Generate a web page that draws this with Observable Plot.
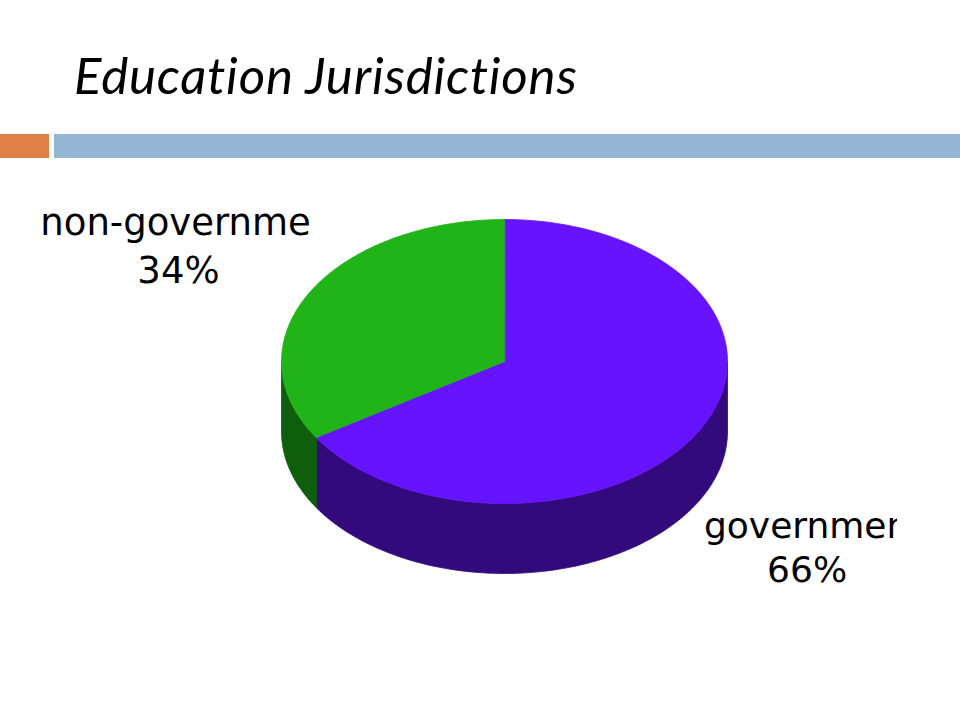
<!DOCTYPE html>
<html>
<head>
<meta charset="utf-8">
<script src="https://cdn.jsdelivr.net/npm/d3@7"></script>
<script src="https://cdn.jsdelivr.net/npm/@observablehq/plot@0.6"></script>
<style>
  html, body { margin: 0; padding: 0; background: #fff; }
  #page { position: relative; width: 960px; height: 720px; overflow: hidden; background: #fff; }
  #title { position: absolute; left: 74px; top: 44px; font-family: Lato, "Open Sans", sans-serif; font-style: italic; font-size: 51px; letter-spacing: 0.8px; font-variant-ligatures: none; color: #000; white-space: nowrap; }
  #barA { position: absolute; left: 0; top: 134px; width: 49px; height: 24px; background: #E07F46; }
  #barB { position: absolute; left: 54px; top: 134px; width: 906px; height: 24px; background: #94B5D3; }
  #chart { position: absolute; left: 0; top: 180px; }
</style>
</head>
<body>
<div id="page">
  <div id="title">Education Jurisdictions</div>
  <div id="barA"></div>
  <div id="barB"></div>
  <div id="chart"></div>
</div>
<script>
// ---- data ----
const categories = ["government", "non-government"];
const shares = [66, 34];
const labelNames = ["government", "non-governme"];
const topColors = ["#6614FF", "#20B418"];
const sideColors = ["#320A7C", "#0E5E0C"];

// ---- geometry (unit pie: rx = 1) ----
const RY = 142 / 223;   // tilt of top ellipse
const DEPTH = 70 / 223; // thickness
const deg = Math.PI / 180;
const total = d3.sum(shares);

// slices go clockwise from 12 o'clock (screen y downward)
let start = -90;
const slices = categories.map((c, i) => {
  const span = shares[i] / total * 360;
  const s = {name: c, label: labelNames[i], share: shares[i], a0: start, a1: start + span, top: topColors[i], side: sideColors[i]};
  start += span;
  return s;
});

function arcPts(a0, a1, dy = 0) {
  const n = Math.max(2, Math.ceil(Math.abs(a1 - a0) / 1.5));
  const pts = [];
  for (let k = 0; k <= n; k++) {
    const t = (a0 + (a1 - a0) * k / n) * deg;
    pts.push({x: Math.cos(t), y: RY * Math.sin(t) + dy});
  }
  return pts;
}

const marks = [];
// side walls (front half only: angles 0..180)
for (const s of slices) {
  for (const off of [0, 360, -360]) {
    const a = Math.max(s.a0 + off, 0), b = Math.min(s.a1 + off, 180);
    if (b > a) {
      const poly = [...arcPts(a, b, 0), ...arcPts(b, a, DEPTH)];
      marks.push(Plot.line(poly, {x: "x", y: "y", curve: "linear-closed", fill: s.side, stroke: s.side, strokeWidth: 0.8}));
    }
  }
}
// top faces
for (const s of slices) {
  const poly = [{x: 0, y: 0}, ...arcPts(s.a0, s.a1, 0)];
  marks.push(Plot.line(poly, {x: "x", y: "y", curve: "linear-closed", fill: s.top, stroke: s.top, strokeWidth: 0.8}));
}

// labels
const gov = slices[0], non = slices[1];
const font = "DejaVu Sans, Verdana, sans-serif";
marks.push(Plot.text([gov], {x: () => 0.8945, y: () => 0.742, text: "label", textAnchor: "start", fontSize: 36, fontFamily: font, fill: "#000", clip: "frame"}));
marks.push(Plot.text([gov], {x: () => 1.357, y: () => 0.937, text: d => `${d.share}%`, textAnchor: "middle", fontSize: 36, fontFamily: font, fill: "#000"}));
marks.push(Plot.text([non], {x: () => -1.475, y: () => -0.62, text: "label", textAnchor: "middle", fontSize: 37, fontFamily: font, fill: "#000"}));
marks.push(Plot.text([non], {x: () => -1.462, y: () => -0.405, text: d => `${d.share}%`, textAnchor: "middle", fontSize: 37, fontFamily: font, fill: "#000"}));

const W = 960, H = 540, cx = 504, cy = 181, unit = 223, mr = 63;
const chart = Plot.plot({
  width: W, height: H,
  marginTop: 0, marginBottom: 0, marginLeft: 0, marginRight: mr,
  x: {domain: [(0 - cx) / unit, (W - mr - cx) / unit], axis: null},
  y: {domain: [(0 - cy) / unit, (H - cy) / unit], range: [0, H], axis: null},
  style: {background: "transparent", overflow: "visible"},
  marks
});
document.getElementById("chart").appendChild(chart);
</script>
</body>
</html>
